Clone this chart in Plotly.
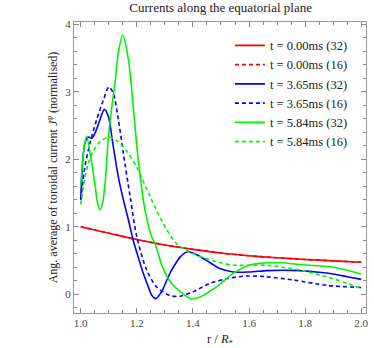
import plotly.graph_objects as go

# ---- data ----
red_x = [1.0, 1.1, 1.2, 1.3, 1.4, 1.5, 1.6, 1.7, 1.8, 1.9, 2.0]
red_y = [1.0, 0.905, 0.81, 0.73, 0.665, 0.61, 0.57, 0.54, 0.515, 0.495, 0.475]

blue_x = [1.0, 1.015, 1.027, 1.039, 1.051, 1.069, 1.084, 1.098, 1.116, 1.134, 1.152, 1.17,
          1.187, 1.205, 1.223, 1.24, 1.253, 1.268, 1.288, 1.303, 1.318, 1.336, 1.354, 1.37,
          1.383, 1.40, 1.425, 1.46, 1.496, 1.544, 1.60, 1.663, 1.72, 1.78, 1.84, 1.90, 1.95, 2.0]
blue_y = [1.40, 2.24, 2.33, 2.31, 2.39, 2.59, 2.74, 2.64, 2.19, 1.74, 1.40, 1.10,
          0.80, 0.55, 0.31, 0.12, -0.015, -0.065, 0.035, 0.17, 0.31, 0.44, 0.55, 0.61,
          0.63, 0.61, 0.56, 0.47, 0.38, 0.33, 0.33, 0.35, 0.355, 0.35, 0.33, 0.30, 0.26, 0.22]

blue16_x = [1.0, 1.015, 1.033, 1.057, 1.081, 1.10, 1.116, 1.134, 1.152, 1.176, 1.2, 1.235,
            1.27, 1.318, 1.354, 1.40, 1.46, 1.52, 1.59, 1.66, 1.76, 1.88, 2.0]
blue16_y = [1.40, 1.89, 2.24, 2.59, 2.88, 3.07, 2.98, 2.59, 2.09, 1.45, 0.85, 0.36,
            0.11, -0.02, -0.03, 0.035, 0.16, 0.23, 0.27, 0.26, 0.21, 0.13, 0.10]

green_x = [1.0, 1.01, 1.021, 1.035, 1.051, 1.06, 1.069, 1.078, 1.087, 1.098, 1.11, 1.122,
           1.134, 1.15, 1.17, 1.188, 1.205, 1.229, 1.253, 1.265, 1.29, 1.32, 1.36, 1.395,
           1.425, 1.484, 1.544, 1.60, 1.70, 1.78, 1.90, 2.0]
green_y = [1.62, 2.1, 2.34, 2.05, 1.62, 1.35, 1.25, 1.35, 1.65, 2.29, 2.75, 3.12,
           3.58, 3.84, 3.48, 2.74, 1.99, 1.25, 0.85, 0.75, 0.42, 0.18, 0.02, -0.07,
           -0.04, 0.11, 0.31, 0.43, 0.47, 0.44, 0.40, 0.30]

green16_x = [1.0, 1.012, 1.027, 1.045, 1.069, 1.102, 1.134, 1.164, 1.2, 1.247, 1.294, 1.342,
             1.413, 1.496, 1.544, 1.60, 1.663, 1.72, 1.78, 1.84, 1.90, 1.95, 2.0]
green16_y = [1.33, 1.65, 1.94, 2.12, 2.26, 2.33, 2.26, 2.12, 1.88, 1.45, 1.05, 0.75,
             0.58, 0.47, 0.43, 0.43, 0.43, 0.40, 0.36, 0.30, 0.23, 0.16, 0.085]

x_ticks = [1.0, 1.2, 1.4, 1.6, 1.8, 2.0]
x_tick_labels = ["1.0", "1.2", "1.4", "1.6", "1.8", "2.0"]
y_ticks = [0, 1, 2, 3, 4]
y_tick_labels = ["0", "1", "2", "3", "4"]

RED = "rgb(255,0,0)"
BLUE = "rgb(0,0,255)"
GREEN = "rgb(0,245,0)"
DASH = "4px,3px"

series = [
    ("t = 0.00ms (32)", red_x, red_y, RED, "solid"),
    ("t = 0.00ms (16)", red_x, red_y, RED, DASH),
    ("t = 3.65ms (32)", blue_x, blue_y, BLUE, "solid"),
    ("t = 3.65ms (16)", blue16_x, blue16_y, BLUE, DASH),
    ("t = 5.84ms (32)", green_x, green_y, GREEN, "solid"),
    ("t = 5.84ms (16)", green16_x, green16_y, GREEN, DASH),
]

fig = go.Figure()
order = [1, 0, 2, 3, 4, 5]
for i in order:
    name, xs, ys, col, dash = series[i]
    fig.add_trace(go.Scatter(
        x=xs, y=ys, name=name, mode="lines",
        line=dict(color=col, width=1.6, dash=dash, shape="spline", smoothing=0.8),
        legendrank=i + 1,
    ))

FONT = "Liberation Serif"
axis_common = dict(
    showline=True, linecolor="#999999", linewidth=1, mirror="allticks",
    ticks="inside", ticklen=5, tickcolor="#888888", tickwidth=1,
    showgrid=False, zeroline=False, automargin=False,
    tickfont=dict(family=FONT, size=11, color="#444444"),
)

fig.update_layout(
    width=374, height=348,
    margin=dict(l=74, r=8, t=22, b=35),
    paper_bgcolor="white", plot_bgcolor="white",
    font=dict(family=FONT, color="#222222"),
    title=dict(text="Currents along the equatorial plane", x=0.59, xanchor="center",
               y=0.978, yanchor="middle", font=dict(family=FONT, size=13, color="#222222")),
    xaxis=dict(range=[0.976, 2.017], tickvals=x_ticks, ticktext=x_tick_labels,
               minor=dict(ticks="inside", ticklen=3, dtick=0.05, tick0=1.0, tickcolor="#888888"),
               title=dict(text="r / <i>R</i><sub>*</sub>", font=dict(family=FONT, size=12.5), standoff=6),
               **axis_common),
    yaxis=dict(range=[-0.278, 4.034], tickvals=y_ticks, ticktext=y_tick_labels,
               minor=dict(ticks="inside", ticklen=3, dtick=0.2, tick0=0, tickcolor="#888888"),
               title=dict(text="Ang. average of toroidal current <i>J</i><sup>φ</sup> (normalised)",
                          font=dict(family=FONT, size=12), standoff=5),
               **axis_common),
    legend=dict(x=0.534, y=0.97, xanchor="left", yanchor="top", bgcolor="rgba(0,0,0,0)",
                font=dict(family=FONT, size=12.5, color="#222222"), tracegroupgap=0),
    showlegend=True,
)

fig.write_html("out.html", config={"displayModeBar": False},
               post_script="document.body.style.margin='0';document.body.style.overflow='hidden';")
